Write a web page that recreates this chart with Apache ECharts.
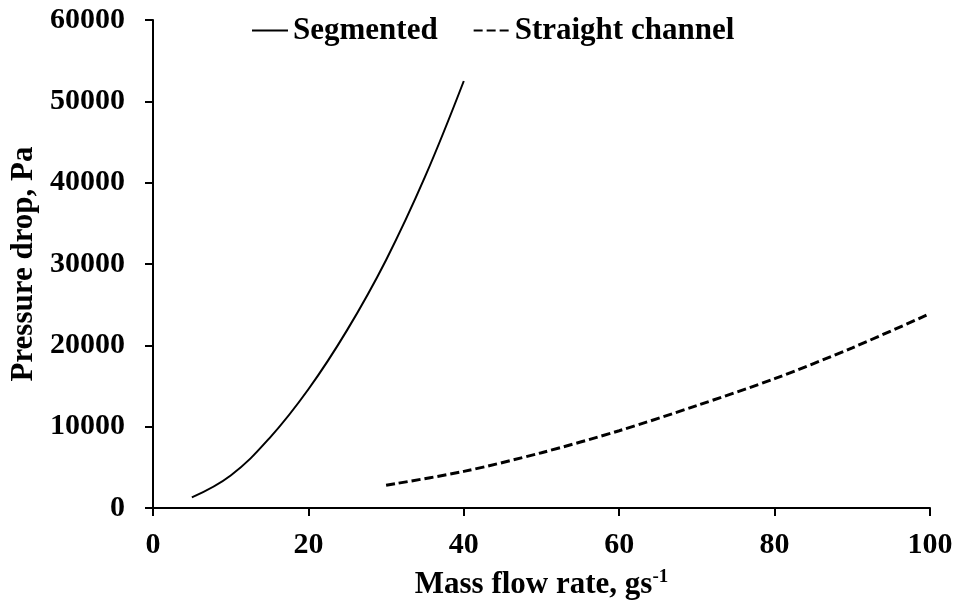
<!DOCTYPE html>
<html>
<head>
<meta charset="utf-8">
<script src="https://cdn.jsdelivr.net/npm/echarts@6/dist/echarts.min.js"></script>
<style>
html,body{margin:0;padding:0;background:#fff;}
#chart{width:961px;height:609px;}
</style>
</head>
<body>
<div id="chart"></div>
<script>
// Data
var segmentedX = [5, 10, 15, 20, 25, 30, 35, 40];
var segmentedY = [1300, 4000, 8600, 14600, 21900, 30500, 40700, 52500];
var straightX = [30, 40, 50, 60, 70, 80, 90, 100];
var straightY = [2800, 4500, 6800, 9500, 12600, 15900, 19700, 23900];
var seriesNames = ['Segmented', 'Straight channel'];
var xTitle = 'Mass flow rate, gs';
var xTitleSup = '-1';
var yTitle = 'Pressure drop, Pa';

function pairs(xs, ys) {
  return xs.map(function (x, i) { return [x, ys[i]]; });
}

var FONT = 'Liberation Serif, Times New Roman, serif';
var chart = echarts.init(document.getElementById('chart'), null, {renderer: 'canvas'});
chart.setOption({
  backgroundColor: '#ffffff',
  animation: false,
  grid: {left: 153, right: 31, top: 20, bottom: 101, containLabel: false, outerBoundsMode: 'none'},
  legend: {
    left: 246, top: 10,
    itemWidth: 36, itemHeight: 14, itemGap: 35,
    itemStyle: {opacity: 0},
    textStyle: {fontFamily: FONT, fontWeight: 'bold', fontSize: 31, color: '#000'},
    data: seriesNames
  },
  xAxis: {
    type: 'value', min: 0, max: 100, interval: 20,
    name: xTitle + '{sup|' + xTitleSup + '}',
    nameLocation: 'middle', nameGap: 60,
    nameTextStyle: {
      fontFamily: FONT, fontWeight: 'bold', fontSize: 31, color: '#000',
      rich: {sup: {fontFamily: FONT, fontWeight: 'bold', fontSize: 19, color: '#000', padding: [0, 0, 14, 0]}}
    },
    axisLine: {show: true, lineStyle: {color: '#000', width: 2}},
    axisTick: {show: true, inside: false, length: 8, lineStyle: {color: '#000', width: 2}},
    axisLabel: {margin: 22, fontFamily: FONT, fontWeight: 'bold', fontSize: 30, color: '#000',
      formatter: function (v) { return String(v); }},
    splitLine: {show: false}
  },
  yAxis: {
    type: 'value', min: 0, max: 60000, interval: 10000,
    name: yTitle, nameLocation: 'middle', nameGap: 110, nameRotate: 90,
    nameTextStyle: {fontFamily: FONT, fontWeight: 'bold', fontSize: 31, color: '#000'},
    axisLine: {show: true, lineStyle: {color: '#000', width: 2}},
    axisTick: {show: true, inside: false, length: 8, lineStyle: {color: '#000', width: 2}},
    axisLabel: {margin: 28, fontFamily: FONT, fontWeight: 'bold', fontSize: 30, color: '#000',
      formatter: function (v) { return String(v); }},
    splitLine: {show: false}
  },
  series: [
    {
      name: seriesNames[0], type: 'line', data: pairs(segmentedX, segmentedY),
      smooth: 0.4, showSymbol: false, symbol: 'none',
      lineStyle: {color: '#000', width: 2, type: 'solid'},
      itemStyle: {color: '#000'}
    },
    {
      name: seriesNames[1], type: 'line', data: pairs(straightX, straightY),
      smooth: 0.3, showSymbol: false, symbol: 'none',
      lineStyle: {color: '#000', width: 3, type: [9, 4]},
      itemStyle: {color: '#000'}
    }
  ]
});
</script>
</body>
</html>
